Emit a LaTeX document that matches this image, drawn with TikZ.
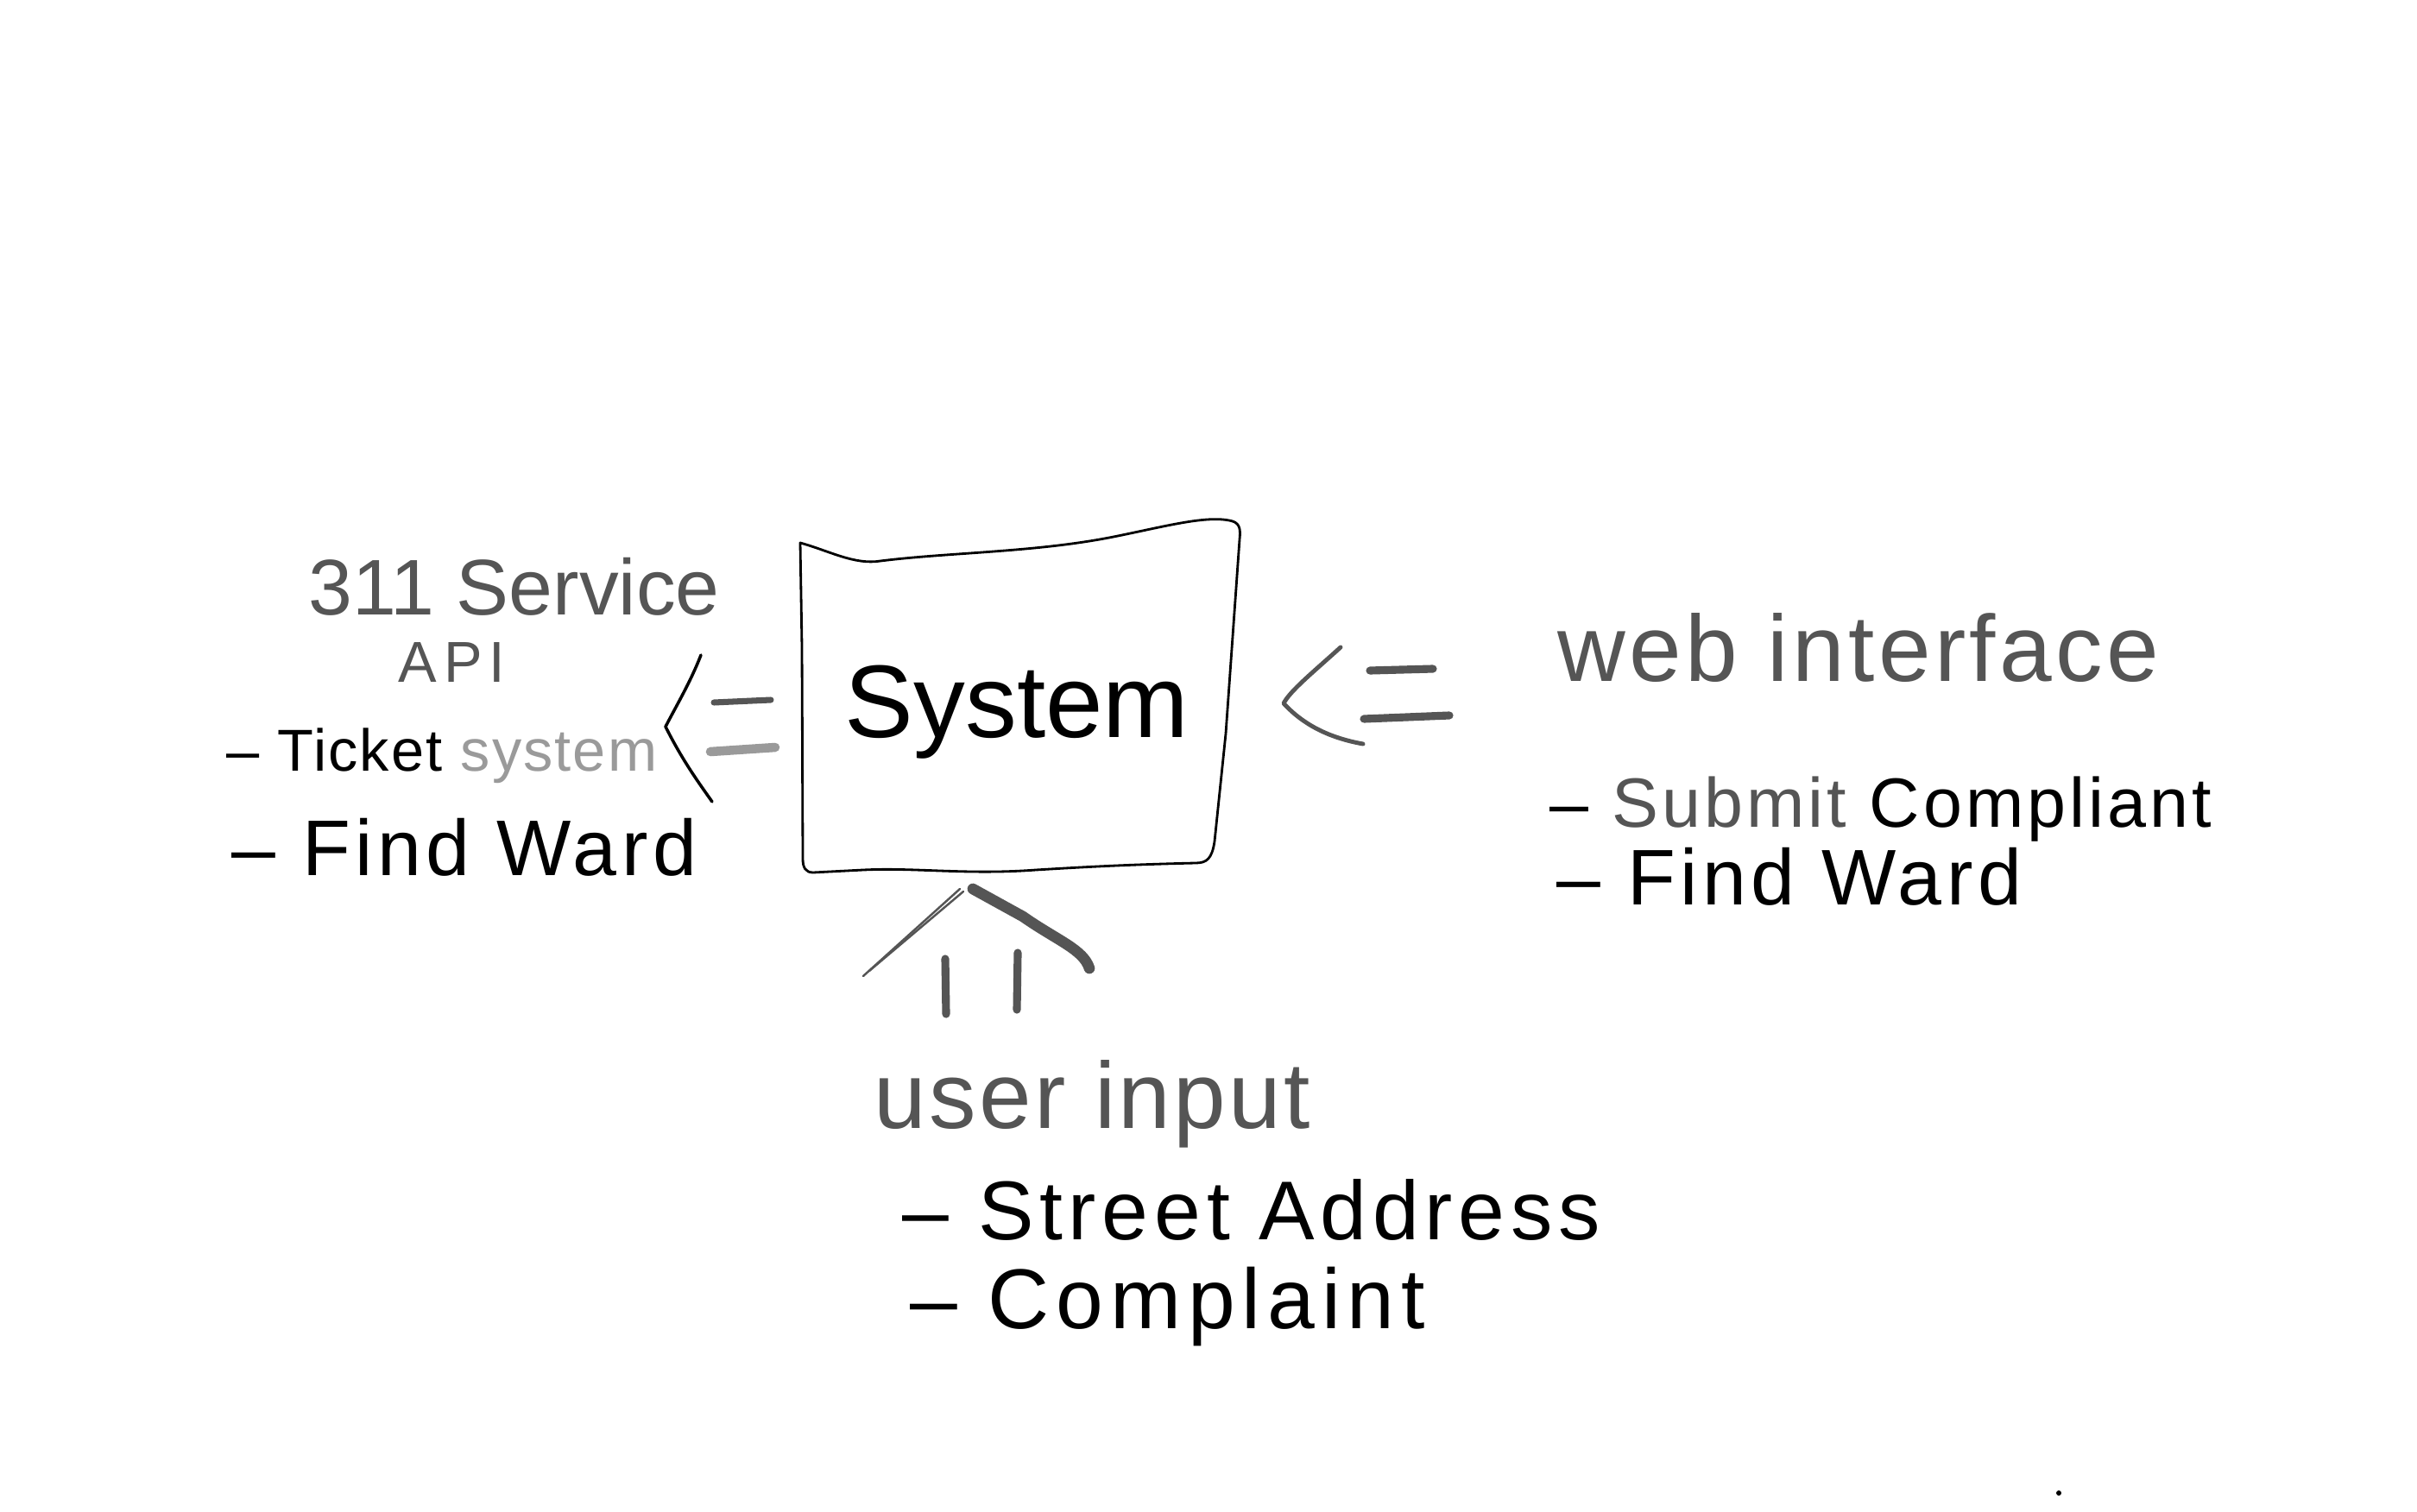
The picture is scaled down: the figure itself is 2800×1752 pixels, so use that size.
\documentclass[tikz,border=0pt]{standalone}
\usepackage{fontspec}
\usetikzlibrary{calc}
\setmainfont{Liberation Sans}
\definecolor{ink}{HTML}{555555}
\definecolor{faint}{HTML}{9A9A9A}
\newcommand\hwfont[2]{\fontsize{#1}{#1}\selectfont\addfontfeatures{LetterSpace=#2}}
\begin{document}
\begin{tikzpicture}[x=0.01cm,y=-0.01cm]
\tikzset{
  hw/.style={inner sep=0pt, anchor=base west, text=black},
  pen/.style={line width=0.8pt, line cap=round, line join=round, draw=black},
  marker/.style={line width=2.6pt, draw=ink, line cap=round, line join=round},
}
\useasboundingbox[fill=white] (0,0) rectangle (2800,1752);

% system box (hand-drawn outline)
\draw[pen] (927,629) .. controls (960,638) and (990,655) .. (1020,650)
  .. controls (1100,640) and (1200,640) .. (1290,622)
  .. controls (1350,610) and (1400,596) .. (1428,604)
  .. controls (1437,607) and (1437,615) .. (1436,625)
  -- (1420,850) -- (1407,975)
  .. controls (1404,995) and (1398,1000) .. (1385,1000)
  .. controls (1300,1002) and (1250,1005) .. (1200,1008)
  .. controls (1120,1014) and (1060,1005) .. (1000,1008)
  -- (942,1011) .. controls (933,1011) and (930,1005) .. (930,995)
  -- (929,750) -- cycle;
\node[hw, font=\fontsize{34}{40}\selectfont] (sys) at (978,854) {System};

% left arrow (system -> 311 API)
\coordinate (lu1) at (893,811); \coordinate (lu2) at (827,814);
\coordinate (ll1) at (898,866); \coordinate (ll2) at (823,871);
\draw[marker, line width=2pt] (lu1) -- (lu2);
\draw[marker, draw=faint, line width=3pt] (ll1) -- (ll2);
\coordinate (lh1) at (812,759); \coordinate (lh2) at (771,842); \coordinate (lh3) at (825,929);
\draw[pen, line width=1pt] (lh1) .. controls (800,790) and (785,815) .. (lh2)
  .. controls (790,880) and (808,905) .. (lh3);

% right arrow (web interface -> system)
\coordinate (ru1) at (1660,775); \coordinate (ru2) at (1587,777);
\coordinate (rl1) at (1679,829); \coordinate (rl2) at (1580,833);
\draw[marker] (ru1) -- (ru2);
\draw[marker] (rl1) -- (rl2);
\coordinate (rh1) at (1553,750); \coordinate (rh2) at (1487,815); \coordinate (rh3) at (1579,862);
\draw[pen, draw=ink, line width=1.4pt] (rh1) .. controls (1520,780) and (1495,800) .. (rh2)
  .. controls (1510,840) and (1540,855) .. (rh3);

% bottom arrow (user input -> system)
\coordinate (b1s) at (1096,1175); \coordinate (b1e) at (1095,1111);
\coordinate (b2s) at (1178,1170); \coordinate (b2e) at (1179,1104);
\draw[marker] (b1s) -- (b1e);
\draw[marker] (b2s) -- (b2e);
\coordinate (bh1) at (1000,1131); \coordinate (bh2) at (1112,1030);
\draw[pen, draw=ink, line width=0.7pt] (bh1) -- (bh2);
\draw[pen, draw=ink, line width=0.7pt] ($(bh1)+(7,-6)$) -- ($(bh2)+(4,3)$);
\coordinate (bh3) at (1127,1030); \coordinate (bh4) at (1262,1122);
\draw[marker, line width=3.6pt] (bh3) -- (1185,1062) .. controls (1225,1090) and (1255,1100) .. (bh4);

% left texts
\node[hw, text=ink, font=\hwfont{26}{0}] (svc) at (357,712) {311 Service};
\node[hw, text=ink, font=\hwfont{19}{12}] (api) at (461,790) {API};
\node[hw, font=\hwfont{19.5}{3}] (tk) at (262,893) {-- Ticket \textcolor{faint}{system}};
\node[hw, font=\hwfont{26}{6}] (fw1) at (268,1014) {-- Find Ward};

% right texts
\node[hw, text=ink, font=\hwfont{31}{4}] (web) at (1804,789) {web interface};
\node[hw, font=\hwfont{23}{5}] (sub) at (1795,958) {-- \textcolor{ink}{Submit} Compliant};
\node[hw, font=\hwfont{26}{6}] (fw2) at (1803,1048) {-- Find Ward};

% bottom texts
\node[hw, text=ink, font=\hwfont{31}{3}] (usr) at (1012,1307) {user input};
\node[hw, font=\hwfont{27.5}{7}] (st) at (1045,1436) {-- Street Address};
\node[hw, font=\hwfont{28}{8}] (cp) at (1054,1539) {-- Complaint};

% stray dot
\fill (2385,1730) circle (3);
\end{tikzpicture}
\end{document}
